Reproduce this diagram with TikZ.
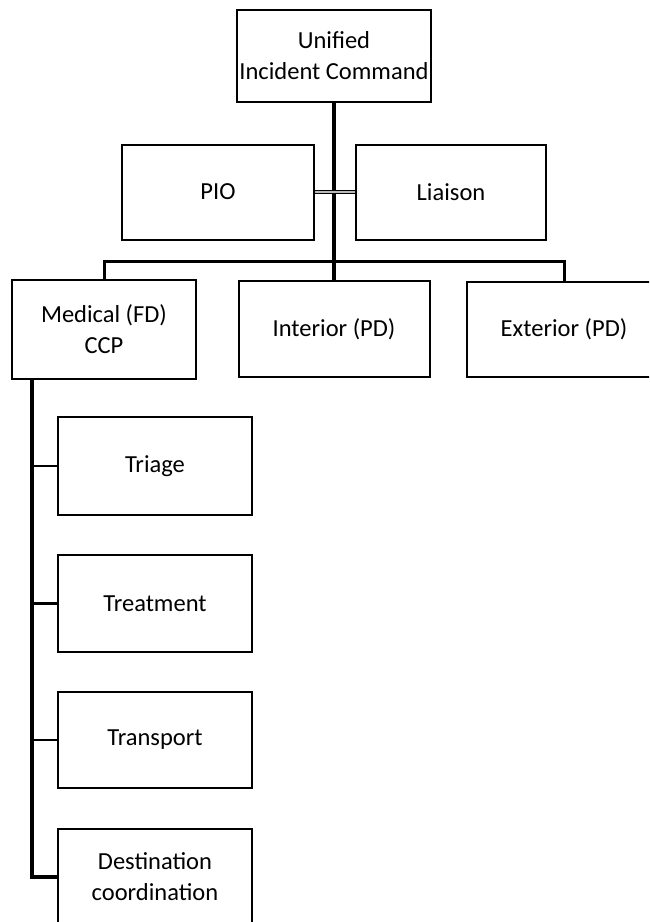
\documentclass[tikz,border=0pt]{standalone}
\usepackage{fontspec}
\setmainfont{Carlito}
\begin{document}
\begin{tikzpicture}[x=1pt,y=-1pt,
  orgbox/.style={draw=black, line width=2pt, fill=white, rectangle, inner sep=0pt,
    align=center, font=\fontsize{24.5}{31}\selectfont, text=black},
  link/.style={draw=black, line width=3.4pt},
  duallink/.style={draw=black, line width=1.2pt, double=gray!55, double distance=2.4pt}]
\useasboundingbox (0,0) rectangle (649,922);
\begin{scope}
\clip (0,0) rectangle (649,922);
% nodes
\node[orgbox, minimum width=194pt, minimum height=92pt] (top) at (334,56) {Unified\\Incident Command};
\node[orgbox, minimum width=192pt, minimum height=95pt] (pio) at (218,192) {PIO};
\node[orgbox, minimum width=190pt, minimum height=95pt] (liaison) at (451,192) {Liaison};
\node[orgbox, minimum width=184pt, minimum height=99pt] (medical) at (104,329.5) {Medical (FD)\\CCP};
\node[orgbox, minimum width=191pt, minimum height=96pt] (interior) at (334,329) {Interior (PD)};
\node[orgbox, minimum width=194pt, minimum height=95pt] (exterior) at (564,329.5) {Exterior (PD)};
\node[orgbox, minimum width=194pt, minimum height=98pt] (triage) at (155,466) {Triage};
\node[orgbox, minimum width=194pt, minimum height=97pt] (treatment) at (155,603.5) {Treatment};
\node[orgbox, minimum width=194pt, minimum height=96pt] (transport) at (155,740) {Transport};
\node[orgbox, minimum width=194pt, minimum height=96pt] (dest) at (155,877) {Destination\\coordination};
% connectors
\coordinate (bar) at (334,261);
\coordinate (mt) at (32,0);
\draw[link] (top.south) -- (interior.north);
\draw[link, line width=3pt] (medical.north) |- (bar) -| (exterior.north);
\draw[duallink] (pio.east) -- (liaison.west);
\draw[link] (medical.south -| mt) |- (dest.west);
\draw[link, line width=2.6pt] (triage.west) -- (triage.west -| mt);
\draw[link, line width=2.6pt] (treatment.west) -- (treatment.west -| mt);
\draw[link, line width=2.6pt] (transport.west) -- (transport.west -| mt);
\end{scope}
\end{tikzpicture}
\end{document}
